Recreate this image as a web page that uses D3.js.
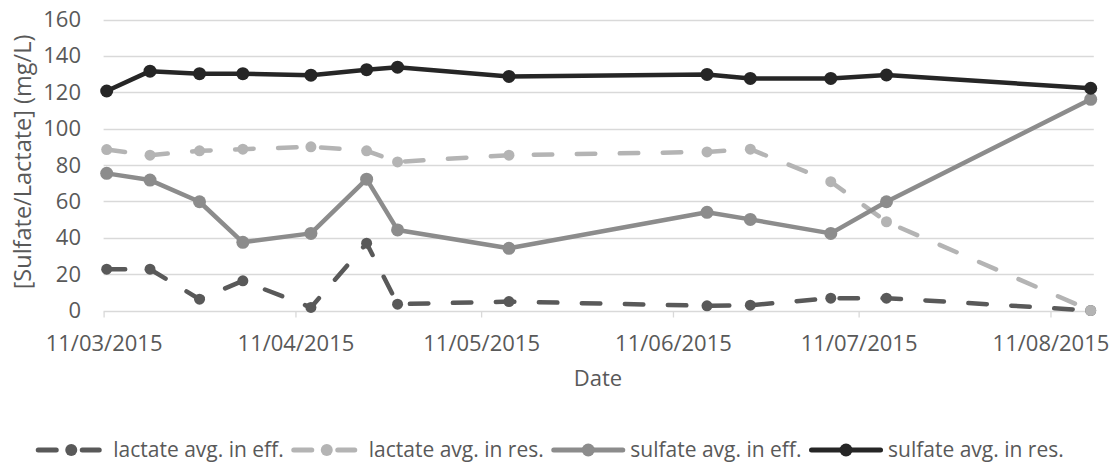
<!DOCTYPE html>
<html>
<head>
<meta charset="utf-8">
<script src="https://cdn.jsdelivr.net/npm/d3@7"></script>
<style>
  body { margin: 0; background: #fff; }
  text { font-family: "Open Sans", sans-serif; fill: #595959; }
</style>
</head>
<body>
<div id="chart"></div>
<script>
// sampling dates (dd/mm/yyyy)
var dates = ["11/03/2015", "18/03/2015", "26/03/2015", "02/04/2015", "13/04/2015", "22/04/2015", "27/04/2015",
             "15/05/2015", "16/06/2015", "23/06/2015", "06/07/2015", "15/07/2015", "17/08/2015"];
var lactateEff = [22.7, 22.7, 6.2, 16.3, 1.7, 37, 3.5, 4.9, 2.6, 2.9, 6.8, 6.8, 0];
var lactateRes = [88.5, 85.4, 87.8, 88.7, 90, 87.8, 81.7, 85.4, 87.2, 88.7, 70.8, 48.8, 0];
var sulfateEff = [75.4, 71.7, 59.8, 37.5, 42.4, 72.2, 44.3, 34.2, 54, 50.1, 42.4, 59.8, 116.1];
var sulfateRes = [120.7, 131.6, 130.2, 130.2, 129.4, 132.4, 133.8, 128.7, 129.8, 127.6, 127.6, 129.5, 122.2];
var yTicks = [0, 20, 40, 60, 80, 100, 120, 140, 160];
var xTickLabels = ["11/03/2015", "11/04/2015", "11/05/2015", "11/06/2015", "11/07/2015", "11/08/2015"];

var seriesNames = ["lactate avg. in eff.", "lactate avg. in res.", "sulfate avg. in eff.", "sulfate avg. in res."];
var seriesValues = [lactateEff, lactateRes, sulfateEff, sulfateRes];
var seriesColors = ["#595959", "#b4b4b4", "#8c8c8c", "#262626"];
var seriesDashed = [true, true, false, false];

var width = 1120, height = 463;
var parse = d3.timeParse("%d/%m/%Y");
var fmt = d3.timeFormat("%d/%m/%Y");

var svg = d3.select("#chart").append("svg")
    .attr("width", width)
    .attr("height", height);

// date axis: one slot per day, points sit in the middle of their day
var x = d3.scaleTime()
    .domain([parse("11/03/2015"), d3.timeDay.offset(parse("17/08/2015"), 1)])
    .range([103.6, 1093.8]);
var y = d3.scaleLinear()
    .domain([0, 160])
    .range([310.5, 19.5]);

var mid = function (s) { return d3.timeHour.offset(parse(s), 12); };

// gridlines
svg.append("g")
    .selectAll("line")
    .data(yTicks).enter()
    .append("line")
        .attr("x1", x.range()[0])
        .attr("x2", x.range()[1])
        .attr("y1", function (d) { return Math.round(y(d)) + 0.5; })
        .attr("y2", function (d) { return Math.round(y(d)) + 0.5; })
        .attr("stroke", "#d9d9d9")
        .attr("stroke-width", 1.3);

// x axis
var xAxis = d3.axisBottom(x)
    .tickValues(xTickLabels.map(parse))
    .tickFormat(fmt)
    .tickSizeInner(6)
    .tickSizeOuter(0)
    .tickPadding(18);
var gx = svg.append("g")
    .attr("transform", "translate(0," + (Math.round(y(0)) + 0.5) + ")")
    .call(xAxis);
gx.select(".domain").remove();
gx.selectAll(".tick line").attr("stroke", "#d9d9d9").attr("stroke-width", 1.3);
gx.selectAll(".tick text")
    .attr("fill", "#595959")
    .style("font-size", "22px")
    .style("font-family", "'Open Sans', sans-serif");

// y axis labels
var yAxis = d3.axisLeft(y)
    .tickValues(yTicks)
    .tickSize(0)
    .tickPadding(0);
var gy = svg.append("g")
    .attr("transform", "translate(81,0)")
    .call(yAxis);
gy.select(".domain").remove();
gy.selectAll(".tick text")
    .attr("fill", "#595959")
    .style("font-size", "22px")
    .style("font-family", "'Open Sans', sans-serif");

// axis titles
svg.append("text")
    .attr("transform", "translate(31,162) rotate(-90)")
    .attr("text-anchor", "middle")
    .style("font-size", "23.5px")
    .text("[Sulfate/Lactate] (mg/L)");
svg.append("text")
    .attr("x", 598)
    .attr("y", 386)
    .attr("text-anchor", "middle")
    .style("font-size", "22px")
    .text("Date");

// series
var line = d3.line()
    .x(function (d) { return x(d.date); })
    .y(function (d) { return y(d.value); });

seriesValues.forEach(function (vals, i) {
    var data = vals.map(function (v, j) { return { date: mid(dates[j]), value: v }; });
    var g = svg.append("g");
    g.append("path")
        .datum(data)
        .attr("d", line)
        .attr("fill", "none")
        .attr("stroke", seriesColors[i])
        .attr("stroke-width", 4.5)
        .attr("stroke-linejoin", "round")
        .attr("stroke-linecap", "round")
        .attr("stroke-dasharray", seriesDashed[i] ? "18.5,24.5" : null);
    g.selectAll("circle")
        .data(data).enter()
        .append("circle")
            .attr("cx", function (d) { return x(d.date); })
            .attr("cy", function (d) { return y(d.value); })
            .attr("r", seriesDashed[i] ? 5.5 : 6.5)
            .attr("fill", seriesColors[i]);
});

// legend
var legend = svg.append("g");
var lx = 0;
seriesNames.forEach(function (name, i) {
    var item = legend.append("g").attr("transform", "translate(" + lx + ",0)");
    if (seriesDashed[i]) {
        item.append("line").attr("x1", 2).attr("x2", 20);
        item.append("line").attr("x1", 46).attr("x2", 63);
    } else {
        item.append("line").attr("x1", 2).attr("x2", 71);
    }
    item.selectAll("line")
        .attr("y1", 0).attr("y2", 0)
        .attr("stroke", seriesColors[i])
        .attr("stroke-width", 5)
        .attr("stroke-linecap", "round");
    var cx = seriesDashed[i] ? 35 : 36.5;
    item.append("circle")
        .attr("cx", cx).attr("cy", 0)
        .attr("r", seriesDashed[i] ? 6 : 6.5)
        .attr("fill", seriesColors[i]);
    var t = item.append("text")
        .attr("x", cx + 42)
        .attr("y", 7)
        .style("font-size", "21px")
        .text(name);
    lx += cx + 42 + t.node().getComputedTextLength() + 8;
});
legend.attr("transform", "translate(" + (550 - (lx - 8) / 2) + ",450)");
</script>
</body>
</html>
